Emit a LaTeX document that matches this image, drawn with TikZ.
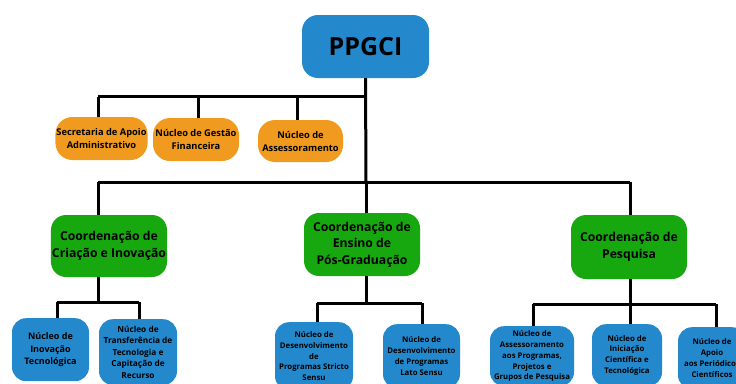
\documentclass[tikz,border=0pt]{standalone}
\usepackage{fontspec}
\setmainfont{Open Sans}
\definecolor{boxblue}{RGB}{36,137,204}
\definecolor{boxorange}{RGB}{240,154,32}
\definecolor{boxgreen}{RGB}{22,168,14}
\begin{document}
\begin{tikzpicture}[x=1pt,y=-1pt,
  base/.style={rounded corners=14pt,align=center,inner sep=1pt,font=\bfseries,text=black},
  topbox/.style={base,fill=boxblue,rounded corners=16pt,minimum width=127pt,minimum height=63pt,font=\bfseries\fontsize{25}{28}\selectfont},
  supbox/.style={base,fill=boxorange,rounded corners=17pt,font=\bfseries\fontsize{9.3}{13}\selectfont},
  coordbox/.style={base,fill=boxgreen,rounded corners=15pt,font=\bfseries\fontsize{12.2}{16.5}\selectfont},
  nucbox/.style={base,fill=boxblue,rounded corners=14pt,font=\bfseries\fontsize{9}{12.5}\selectfont},
  nucsmall/.style={base,fill=boxblue,rounded corners=14pt,font=\bfseries\fontsize{7.8}{10.8}\selectfont},
  conn/.style={line width=3pt,draw=black}]
\useasboundingbox (0,0) rectangle (736,383);
\clip (0,0) rectangle (736,383);
% top
\node[topbox] (ppgci) at (365.5,46.5) {PPGCI};
% support level
\node[supbox,minimum width=89pt,minimum height=43pt] (s1) at (101.5,138.5) {Secretaria de Apoio\\Administrativo};
\node[supbox,minimum width=86pt,minimum height=43pt] (s2) at (196,139.5) {Núcleo de Gestão\\Financeira};
\node[supbox,minimum width=85pt,minimum height=42pt] (s3) at (300.5,141) {Núcleo de\\Assessoramento};
% coordination level
\node[coordbox,minimum width=116pt,minimum height=62pt] (c1) at (109,246) {Coordenação de\\Criação e Inovação};
\node[coordbox,minimum width=116pt,minimum height=63pt] (c2) at (362,244.5) {Coordenação de\\Ensino de\\Pós-Graduação};
\node[coordbox,minimum width=116pt,minimum height=64pt] (c3) at (629,247) {Coordenação de\\Pesquisa};
% bottom level
\node[nucbox,anchor=north,minimum width=77pt,minimum height=63pt] (n1) at (50.5,318) {Núcleo de\\Inovação\\Tecnológica};
\node[nucsmall,anchor=north,minimum width=78pt,minimum height=66pt,font=\bfseries\fontsize{8.3}{11.6}\selectfont] (n2) at (138,319) {Núcleo de\\Transferência de\\Tecnologia e\\Capitação de\\Recurso};
\node[nucsmall,anchor=north,minimum width=78pt,minimum height=68pt] (n3) at (314,322) {Núcleo de\\Desenvolvimento\\de\\Programas Stricto\\Sensu};
\node[nucsmall,anchor=north,minimum width=77pt,minimum height=64pt] (n4) at (421.5,324) {Núcleo de\\Desenvolvimento\\de Programas\\Lato Sensu};
\node[nucsmall,anchor=north,minimum width=84pt,minimum height=60pt] (n5) at (532,326) {Núcleo de\\Assessoramento\\aos Programas,\\Projetos e\\Grupos de Pesquisa};
\node[nucsmall,anchor=north,minimum width=70pt,minimum height=62pt] (n6) at (627,324) {Núcleo de\\Iniciação\\Científica e\\Tecnológica};
\node[nucsmall,anchor=north,minimum width=68pt,minimum height=62pt] (n7) at (712,327) {Núcleo de\\Apoio\\aos Periódicos\\Científicos};
% junction coordinates
\coordinate (ta) at (98,96.5);
\coordinate (tb) at (198,96.5);
\coordinate (tc) at (297,96.5);
\coordinate (td) at (365.5,96.5);
\coordinate (ca) at (98,182);
\coordinate (cb) at (366,182);
\coordinate (cc) at (630,182);
\coordinate (ba) at (98,302);
\coordinate (ba1) at (57,302);
\coordinate (ba2) at (139,302);
\coordinate (bb) at (366,303);
\coordinate (bb1) at (317,303);
\coordinate (bb2) at (422,303);
\coordinate (bc) at (630,304);
\coordinate (bc1) at (533,304);
\coordinate (bc3) at (716,304);
% connectors
\draw[conn] (ppgci.south) -- (cb);
\draw[conn] (ta) -- (td);
\draw[conn] (ta) -- (ta |- s1.north);
\draw[conn] (tb) -- (tb |- s2.north);
\draw[conn] (tc) -- (tc |- s3.north);
\draw[conn] (ca) -- (cc);
\draw[conn] (ca) -- (ca |- c1.north);
\draw[conn] (cb) -- (cb |- c2.north);
\draw[conn] (cc) -- (cc |- c3.north);
\draw[conn] (ba |- c1.south) -- (ba);
\draw[conn] (ba1) -- (ba2);
\draw[conn] (ba1) -- (ba1 |- n1.north);
\draw[conn] (ba2) -- (ba2 |- n2.north);
\draw[conn] (bb |- c2.south) -- (bb);
\draw[conn] (bb1) -- (bb2);
\draw[conn] (bb1) -- (bb1 |- n3.north);
\draw[conn] (bb2) -- (bb2 |- n4.north);
\draw[conn] (bc |- c3.south) -- (bc |- n6.north);
\draw[conn] (bc1) -- (bc3);
\draw[conn] (bc1) -- (bc1 |- n5.north);
\draw[conn] (bc3) -- (bc3 |- n7.north);
\end{tikzpicture}
\end{document}
